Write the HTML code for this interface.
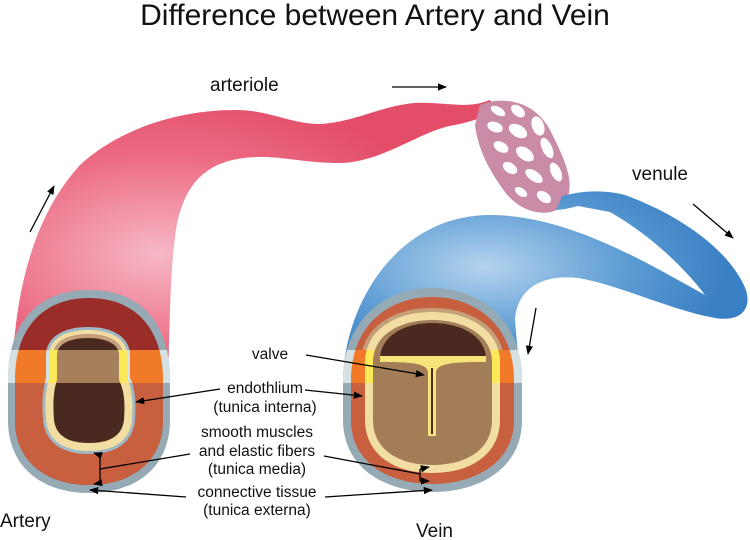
<!DOCTYPE html>
<html><head><meta charset="utf-8"><style>
html,body{margin:0;padding:0;background:#fff;width:750px;height:540px;overflow:hidden}
svg{display:block}
text{font-family:"Liberation Sans",Arial,sans-serif;fill:#111}
</style></head><body>
<svg width="750" height="540" viewBox="0 0 750 540" xmlns="http://www.w3.org/2000/svg">
<defs>
<radialGradient id="pk" cx="0.3" cy="0.55" r="0.6"><stop offset="0" stop-color="#f6b8c6"/><stop offset="0.6" stop-color="#ec6a82"/><stop offset="1" stop-color="#e34d68"/></radialGradient>
<radialGradient id="bl" cx="0.35" cy="0.4" r="0.6"><stop offset="0" stop-color="#b4d3ee"/><stop offset="0.6" stop-color="#5b9bd3"/><stop offset="1" stop-color="#3a80c4"/></radialGradient>
<marker id="ah" viewBox="0 0 10 10" refX="9" refY="5" markerWidth="7" markerHeight="7" orient="auto"><path d="M0,1 L10,5 L0,9 Z" fill="#000"/></marker>
<clipPath id="band"><rect x="0" y="350" width="750" height="33"/></clipPath>
<path id="aOut" d="M8,380 C8,320 40,290 89,290 C138,290 170,320 170,380 L170,420 C170,468 135,493 89,493 C43,493 8,468 8,420 Z"/>
<path id="aMed" d="M15,380 C15,326 45,298 89,298 C133,298 163,326 163,380 L163,420 C163,462 131,485 89,485 C47,485 15,462 15,420 Z"/>
<path id="aLum" d="M57,355 C57,344 70,338 88,338 C106,338 119,344 119,355 L119,380 C125,392 125,405 124,420 C122,437 108,443 89,443 C70,443 56,437 54,420 C53,405 53,392 57,380 Z"/>
<path id="vOut" d="M343,380 C343,320 385,288 432,288 C480,288 522,320 522,380 L522,420 C522,468 480,492 432,492 C385,492 343,468 343,420 Z"/>
<path id="vMed" d="M351,380 C351,326 388,297 432,297 C476,297 514,326 514,380 L514,420 C514,462 476,484 432,484 C388,484 351,462 351,420 Z"/>
<path id="vLum" d="M373,362 C373,335 400,320 432,320 C464,320 492,335 492,362 L492,420 C492,450 466,465 432,465 C399,465 373,450 373,420 Z"/>
</defs>

<text x="375" y="25" font-size="30" text-anchor="middle">Difference between Artery and Vein</text>

<!-- artery tube -->
<path d="M12,380 C14,300 30,220 80,165 C120,128 180,110 235,110 C270,110 290,124 320,124 C360,122 390,100 430,103 C455,104 470,108 490,100 L500,112 C480,118 470,122 455,125 C420,130 380,165 335,163 C300,162 285,157 262,157 C215,157 185,175 176,230 C170,270 170,320 168,380 Z" fill="url(#pk)"/>

<!-- capillary net -->
<path d="M480,105 C505,95 535,102 550,130 C565,160 580,190 560,208 C545,218 520,212 505,192 C490,172 478,150 475,125 Z" fill="#c98ba6"/>
<g fill="#fff">
<ellipse cx="498" cy="111" rx="8" ry="4" transform="rotate(30 498 111)"/>
<ellipse cx="518" cy="111" rx="8" ry="5" transform="rotate(40 518 111)"/>
<ellipse cx="538" cy="126" rx="6" ry="10" transform="rotate(-20 538 126)"/>
<ellipse cx="495" cy="127" rx="8" ry="5" transform="rotate(20 495 127)"/>
<ellipse cx="518" cy="131" rx="10" ry="6" transform="rotate(30 518 131)"/>
<ellipse cx="547" cy="148" rx="5" ry="11" transform="rotate(-25 547 148)"/>
<ellipse cx="501" cy="147" rx="8" ry="5" transform="rotate(30 501 147)"/>
<ellipse cx="525" cy="154" rx="10" ry="6" transform="rotate(35 525 154)"/>
<ellipse cx="556" cy="172" rx="5" ry="10" transform="rotate(-25 556 172)"/>
<ellipse cx="510" cy="168" rx="8" ry="5" transform="rotate(35 510 168)"/>
<ellipse cx="534" cy="176" rx="10" ry="5" transform="rotate(35 534 176)"/>
<ellipse cx="521" cy="192" rx="7" ry="4" transform="rotate(35 521 192)"/>
<ellipse cx="544" cy="197" rx="8" ry="5" transform="rotate(35 544 197)"/>
</g>

<!-- vein tube -->
<path d="M343,380 C345,300 400,215 490,215 C570,215 650,265 705,295 C680,262 645,232 610,212 L578,206 C570,208 562,210 556,210 L562,196 C585,190 605,190 625,195 C680,215 730,250 746,290 C752,310 740,322 715,318 C670,310 620,285 578,278 C540,274 517,290 515,320 L520,380 Z" fill="url(#bl)"/>

<!-- artery cross-section -->
<clipPath id="aclip"><use href="#aMed"/></clipPath>
<clipPath id="topA"><rect x="0" y="0" width="200" height="350"/></clipPath>
<use href="#aOut" fill="#95aab4"/>
<use href="#aMed" fill="#9b2d29"/>
<rect x="14" y="383" width="150" height="104" fill="#c85f3e" clip-path="url(#aclip)"/>
<use href="#aLum" fill="none" stroke="#a0b8c4" stroke-width="22"/>
<use href="#aLum" fill="none" stroke="#f2dea2" stroke-width="16"/>
<use href="#aLum" fill="none" stroke="#c4a07a" stroke-width="8" clip-path="url(#topA)"/>
<use href="#aLum" fill="#4a2a20"/>
<g clip-path="url(#band)">
<use href="#aOut" fill="#d5e1e3"/>
<use href="#aMed" fill="#f07a28"/>
<use href="#aLum" fill="none" stroke="#d5e1e3" stroke-width="22"/>
<use href="#aLum" fill="none" stroke="#fbe95a" stroke-width="16"/>
<use href="#aLum" fill="#a67f5b"/>
</g>

<!-- vein cross-section -->
<clipPath id="topV"><rect x="300" y="0" width="250" height="350"/></clipPath>
<use href="#vOut" fill="#95aab4"/>
<use href="#vMed" fill="#c85f3e"/>
<use href="#vLum" fill="none" stroke="#c4a07a" stroke-width="24" clip-path="url(#topV)"/>
<use href="#vLum" fill="none" stroke="#f2dea2" stroke-width="16"/>
<use href="#vLum" fill="#a27d58"/>
<path d="M380,357 C382,335 405,323 432,323 C460,323 484,335 486,357 Z" fill="#4a2a20"/>
<g clip-path="url(#band)">
<use href="#vOut" fill="#d5e1e3"/>
<use href="#vMed" fill="#f07a28"/>
<use href="#vLum" fill="none" stroke="#fbe95a" stroke-width="16"/>
<use href="#vLum" fill="#a27d58"/>
<path d="M380,357 C382,335 405,323 432,323 C460,323 484,335 486,357 Z" fill="#4a2a20"/>
</g>
<path d="M380,356 L486,356 L486,362 C455,362 437,363 436,372 L436,436 L428,436 L428,372 C427,363 410,362 380,362 Z" fill="#f6e37a"/>
<path d="M431,368 L433,368 L433,434 L431,434 Z" fill="#4a2a20"/>

<!-- labels -->
<text x="210" y="91" font-size="19">arteriole</text>
<text x="632" y="180" font-size="19">venule</text>
<text x="0" y="527" font-size="19">Artery</text>
<text x="416" y="537" font-size="19">Vein</text>
<g font-size="15.5" text-anchor="middle">
<text x="270" y="359">valve</text>
<text x="265" y="393">endothlium</text>
<text x="265" y="412">(tunica interna)</text>
<text x="257" y="437">smooth muscles</text>
<text x="257" y="456">and elastic fibers</text>
<text x="257" y="474">(tunica media)</text>
<text x="257" y="497">connective tissue</text>
<text x="257" y="515">(tunica externa)</text>
</g>

<!-- arrows -->
<g stroke="#000" stroke-width="1.3" fill="none" marker-end="url(#ah)">
<line x1="30" y1="232" x2="54" y2="186"/>
<line x1="392" y1="87" x2="446" y2="87"/>
<line x1="693" y1="204" x2="733" y2="238"/>
<line x1="536" y1="308" x2="528" y2="354"/>
<line x1="306" y1="355" x2="424" y2="375"/>
<line x1="220" y1="389" x2="136" y2="402"/>
<line x1="305" y1="390" x2="362" y2="396"/>
<line x1="186" y1="497" x2="90" y2="490"/>
<line x1="325" y1="497" x2="432" y2="490"/>
<line x1="100" y1="455" x2="94" y2="453"/>
<line x1="100" y1="483" x2="94" y2="484"/>
<line x1="420" y1="469" x2="429" y2="467"/>
<line x1="420" y1="481" x2="429" y2="481"/>
</g>
<g stroke="#000" stroke-width="1.3" fill="none">
<polyline points="100,455 100,483"/>
<line x1="190" y1="454" x2="100" y2="469"/>
<polyline points="420,469 420,481"/>
<line x1="324" y1="456" x2="420" y2="474"/>
</g>
</svg>
</body></html>
